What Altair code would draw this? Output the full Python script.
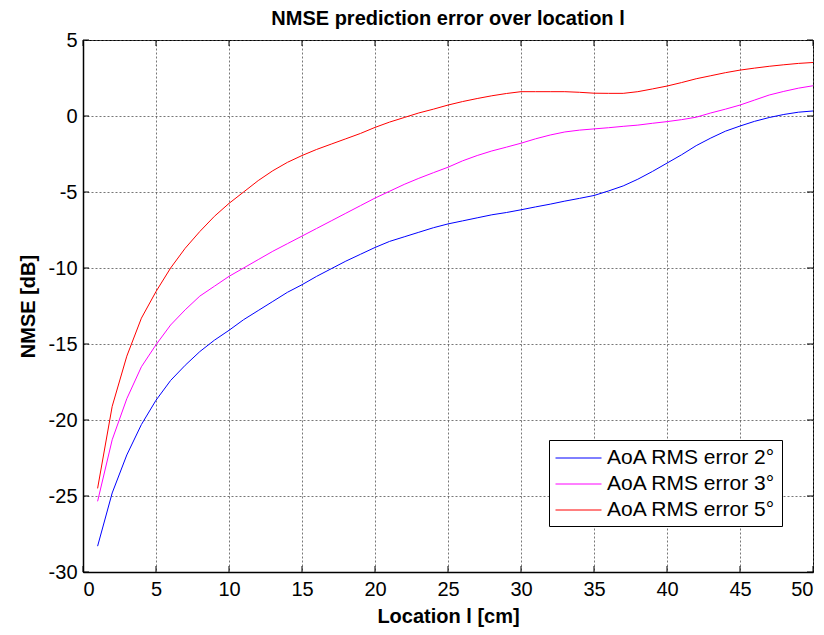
import altair as alt
import pandas as pd

locations = list(range(1, 51))

blue_2deg = [-28.3, -24.8, -22.3, -20.3, -18.7, -17.4, -16.4, -15.5, -14.75, -14.1,
             -13.4, -12.8, -12.2, -11.6, -11.1, -10.55, -10.05, -9.55, -9.1, -8.65,
             -8.25, -7.95, -7.65, -7.35, -7.1, -6.9, -6.7, -6.5, -6.35, -6.17,
             -5.98, -5.8, -5.6, -5.42, -5.23, -4.93, -4.6, -4.16, -3.65, -3.1,
             -2.55, -1.95, -1.45, -1.0, -0.66, -0.35, -0.1, 0.1, 0.25, 0.33]

magenta_3deg = [-25.35, -21.3, -18.6, -16.5, -15.05, -13.75, -12.75, -11.85, -11.2, -10.55,
                -10.0, -9.45, -8.9, -8.4, -7.9, -7.4, -6.9, -6.4, -5.9, -5.4,
                -4.95, -4.5, -4.1, -3.73, -3.37, -2.95, -2.6, -2.3, -2.05, -1.79,
                -1.5, -1.25, -1.05, -0.93, -0.85, -0.77, -0.68, -0.6, -0.48, -0.37,
                -0.24, -0.08, 0.2, 0.45, 0.72, 1.05, 1.38, 1.62, 1.83, 1.99]

red_5deg = [-24.5, -19.1, -15.8, -13.3, -11.55, -10.0, -8.7, -7.6, -6.6, -5.75,
            -5.0, -4.25, -3.6, -3.05, -2.6, -2.2, -1.85, -1.5, -1.15, -0.75,
            -0.4, -0.1, 0.2, 0.45, 0.72, 0.95, 1.15, 1.33, 1.48, 1.6,
            1.6, 1.6, 1.6, 1.56, 1.5, 1.49, 1.49, 1.6, 1.78, 1.97,
            2.2, 2.45, 2.65, 2.85, 3.02, 3.15, 3.27, 3.37, 3.46, 3.52]

series_names = ["AoA RMS error 2°", "AoA RMS error 3°", "AoA RMS error 5°"]
series_colors = ["#0000ff", "#ff00ff", "#ff0000"]

x_ticks = [0, 5, 10, 15, 20, 25, 30, 35, 40, 45, 50]
y_ticks = [-30, -25, -20, -15, -10, -5, 0, 5]

W, H = 730, 532
FONT = "Liberation Sans"

rows = []
for name, vals in zip(series_names, [blue_2deg, magenta_3deg, red_5deg]):
    for xv, yv in zip(locations, vals):
        rows.append({"l": xv, "nmse": yv, "series": name})
df = pd.DataFrame(rows)

xscale = alt.Scale(domain=[0, 50], nice=False, zero=False)
yscale = alt.Scale(domain=[-30, 5], nice=False, zero=False)

lines = alt.Chart(df).mark_line(strokeWidth=1, clip=True).encode(
    x=alt.X("l:Q", scale=xscale,
            axis=alt.Axis(values=x_ticks, title="Location l [cm]", labelExpr="datum.value + ''",
                          ticks=False, labelPadding=7, titlePadding=7)),
    y=alt.Y("nmse:Q", scale=yscale,
            axis=alt.Axis(values=y_ticks, title="NMSE [dB]", labelExpr="datum.value + ''",
                          ticks=False, labelPadding=6, titlePadding=10)),
    color=alt.Color("series:N",
                    scale=alt.Scale(domain=series_names, range=series_colors),
                    legend=alt.Legend(title=None, orient="none", legendX=466, legendY=400,
                                      symbolType="M-1,0L3,0", symbolSize=529,
                                      symbolStrokeWidth=1,
                                      labelFontSize=21, labelFont=FONT, labelColor="#000",
                                      labelLimit=0,
                                      strokeColor="#000", fillColor="#fff", padding=6,
                                      rowPadding=4, labelOffset=28)),
)

xt = pd.DataFrame({"t": x_ticks})
yt = pd.DataFrame({"t": y_ticks})

xtick_bottom = alt.Chart(xt).mark_rule(color="#000", strokeWidth=1).encode(
    x=alt.X("t:Q", scale=xscale), y=alt.value(H), y2=alt.value(H - 6))
xtick_top = alt.Chart(xt).mark_rule(color="#000", strokeWidth=1).encode(
    x=alt.X("t:Q", scale=xscale), y=alt.value(0), y2=alt.value(6))
ytick_left = alt.Chart(yt).mark_rule(color="#000", strokeWidth=1).encode(
    y=alt.Y("t:Q", scale=yscale), x=alt.value(0), x2=alt.value(6))
ytick_right = alt.Chart(yt).mark_rule(color="#000", strokeWidth=1).encode(
    y=alt.Y("t:Q", scale=yscale), x=alt.value(W), x2=alt.value(W - 6))

chart = alt.layer(lines, xtick_bottom, xtick_top, ytick_left, ytick_right).properties(
    width=W, height=H,
    title=alt.TitleParams("NMSE prediction error over location l", font=FONT, fontSize=20,
                          fontWeight="bold", color="#000", offset=1, anchor="middle"),
    autosize=alt.AutoSizeParams(type="none"),
    padding={"left": 75, "top": 32, "right": 3, "bottom": 55},
    background="white",
).configure_view(
    stroke="#000", strokeWidth=1
).configure_axis(
    domainColor="#000", domainWidth=1.5,
    grid=True, gridColor="#555", gridDash=[2, 2], gridWidth=1, gridOpacity=0.8,
    labelFont=FONT, labelFontSize=20, labelColor="#000",
    titleFont=FONT, titleFontSize=20, titleFontWeight="bold", titleColor="#000",
)

chart.save("out.html", embed_options={"renderer": "svg", "actions": False})
